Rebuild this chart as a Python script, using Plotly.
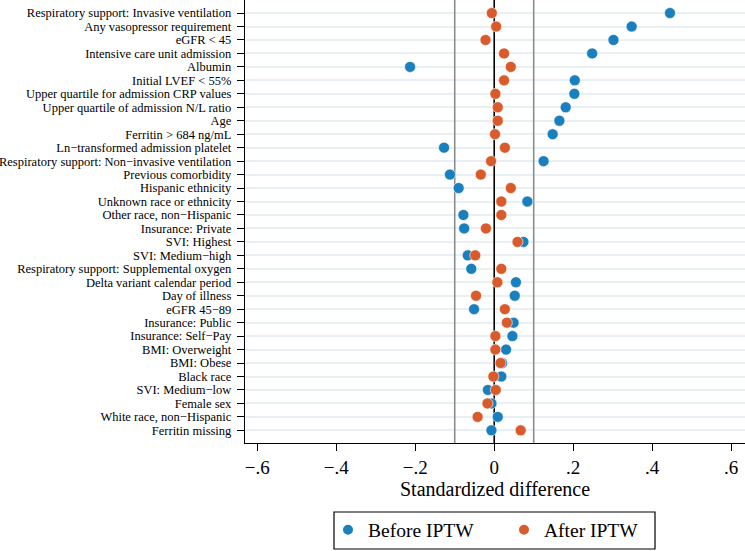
import plotly.graph_objects as go

labels = [
    "Respiratory support: Invasive ventilation",
    "Any vasopressor requirement",
    "eGFR < 45",
    "Intensive care unit admission",
    "Albumin",
    "Initial LVEF < 55%",
    "Upper quartile for admission CRP values",
    "Upper quartile of admission N/L ratio",
    "Age",
    "Ferritin > 684 ng/mL",
    "Ln\u2212transformed admission platelet",
    "Respiratory support: Non\u2212invasive ventilation",
    "Previous comorbidity",
    "Hispanic ethnicity",
    "Unknown race or ethnicity",
    "Other race, non\u2212Hispanic",
    "Insurance: Private",
    "SVI: Highest",
    "SVI: Medium\u2212high",
    "Respiratory support: Supplemental oxygen",
    "Delta variant calendar period",
    "Day of illness",
    "eGFR 45\u221289",
    "Insurance: Public",
    "Insurance: Self\u2212Pay",
    "BMI: Overweight",
    "BMI: Obese",
    "Black race",
    "SVI: Medium\u2212low",
    "Female sex",
    "White race, non\u2212Hispanic",
    "Ferritin missing",
]

before_iptw = [0.445, 0.348, 0.302, 0.248, -0.213, 0.204, 0.203, 0.181, 0.165, 0.148,
               -0.127, 0.125, -0.112, -0.090, 0.084, -0.078, -0.076, 0.074, -0.067, -0.058,
               0.055, 0.052, -0.051, 0.049, 0.046, 0.030, 0.020, 0.018, -0.016, -0.007,
               0.009, -0.007]

after_iptw = [-0.006, 0.005, -0.022, 0.025, 0.042, 0.025, 0.003, 0.009, 0.009, 0.002,
              0.027, -0.008, -0.034, 0.042, 0.018, 0.018, -0.021, 0.059, -0.048, 0.018,
              0.008, -0.046, 0.027, 0.032, 0.003, 0.003, 0.016, -0.002, 0.004, -0.017,
              -0.042, 0.067]

x_tickvals = [-0.6, -0.4, -0.2, 0, 0.2, 0.4, 0.6]
x_ticktext = ["\u2212.6", "\u2212.4", "\u2212.2", "0", ".2", ".4", ".6"]
ref_lines = [-0.1, 0.1]

BLUE = "#1A80BD"
ORANGE = "#D95A2B"
FONT = "Liberation Serif"

rows = list(range(1, len(labels) + 1))
y_span = [0, len(labels) + 1]

fig = go.Figure()
for v in ref_lines:
    fig.add_trace(go.Scatter(x=[v, v], y=y_span, mode="lines", showlegend=False,
                             hoverinfo="skip", line=dict(color="#8c8c8c", width=1.6)))
fig.add_trace(go.Scatter(x=[0, 0], y=y_span, mode="lines", showlegend=False,
                         hoverinfo="skip", line=dict(color="black", width=1.6)))

fig.add_trace(go.Scatter(
    x=before_iptw, y=rows, mode="markers", name="Before IPTW",
    marker=dict(color=BLUE, size=11, line=dict(color="white", width=0.6)),
))
fig.add_trace(go.Scatter(
    x=after_iptw, y=rows, mode="markers", name="After IPTW",
    marker=dict(color=ORANGE, size=11, line=dict(color="white", width=0.6)),
))

# legend frame
fig.add_shape(type="rect", xref="paper", yref="paper",
              x0=(334 - 245) / 500, x1=(655 - 245) / 500,
              y0=(443 - 549) / 443, y1=(443 - 512) / 443,
              line=dict(color="black", width=1.2), fillcolor="rgba(0,0,0,0)")

fig.update_layout(
    width=745, height=551,
    margin=dict(l=245, r=0, t=0, b=108),
    paper_bgcolor="white", plot_bgcolor="white",
    font=dict(family=FONT, color="black"),
    showlegend=True,
    legend=dict(
        orientation="h", x=(328 - 245) / 500, xanchor="left",
        y=(443 - 530) / 443, yanchor="middle",
        borderwidth=0, bgcolor="rgba(0,0,0,0)",
        font=dict(family=FONT, size=19.5, color="black"),
        itemsizing="constant", traceorder="normal",
        entrywidth=131, entrywidthmode="pixels",
    ),
    xaxis=dict(
        range=[-0.631, 0.635], tickvals=x_tickvals, ticktext=x_ticktext,
        ticks="outside", ticklen=7, tickwidth=1.2, tickcolor="black",
        showline=True, linecolor="black", linewidth=1.3, mirror=False,
        showgrid=False, zeroline=False, automargin=False,
        tickfont=dict(family=FONT, size=19, color="black"),
        title=dict(text="Standardized difference", font=dict(family=FONT, size=20, color="black"), standoff=4),
    ),
    yaxis=dict(
        range=[32.94, 0.03], tickvals=rows, ticktext=labels,
        ticks="outside", ticklen=7, tickwidth=1.2, tickcolor="black",
        ticklabelstandoff=3,
        showline=True, linecolor="black", linewidth=1.3,
        showgrid=True, gridcolor="#e8f0f3", gridwidth=1.5,
        zeroline=False, automargin=False,
        tickfont=dict(family=FONT, size=12.5, color="black"),
    ),
)

fig.write_html("out.html", config={"displayModeBar": False},
               post_script="document.body.style.margin='0';document.body.style.padding='0';")
